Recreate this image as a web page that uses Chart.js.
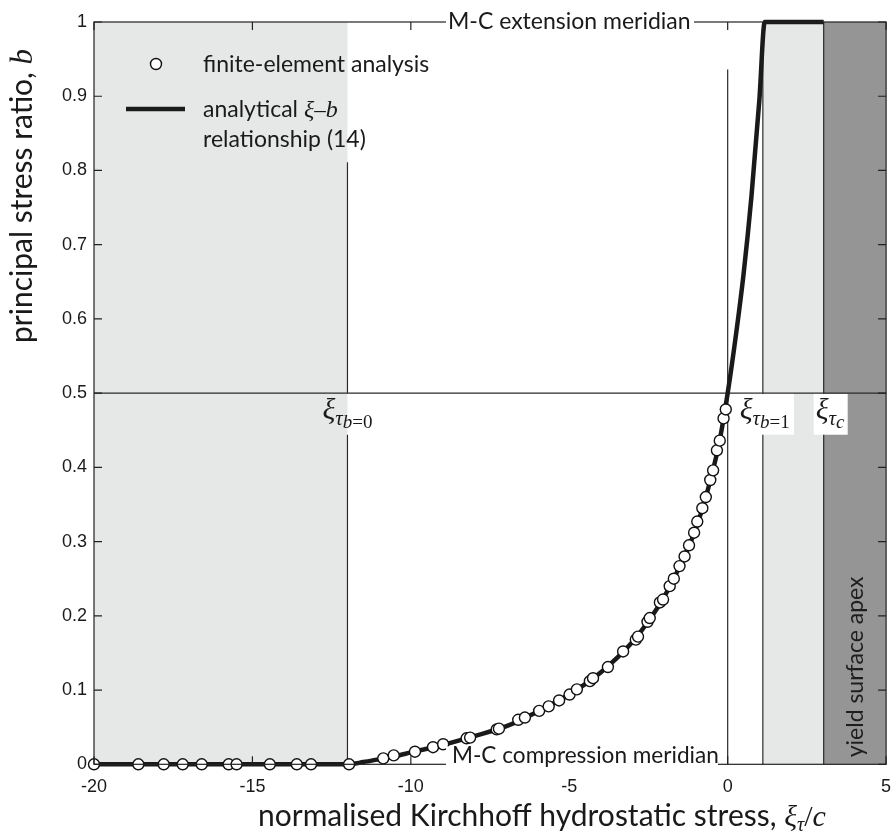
<!DOCTYPE html>
<html>
<head>
<meta charset="utf-8">
<script src="https://cdn.jsdelivr.net/npm/chart.js"></script>
<style>
  html, body { margin: 0; padding: 0; background: #fff; }
</style>
</head>
<body>
<canvas id="c" width="893" height="838"></canvas>
<script>
// finite-element results (xi_tau / c , b)
const feX = [-20, -18.6, -17.8, -17.2, -16.6, -15.75, -15.5, -14.45, -13.6, -13.15, -11.95,
  -10.87, -10.54, -9.87, -9.30, -8.98, -8.24, -8.13, -7.29, -7.22, -6.61, -6.40, -5.95, -5.65,
  -5.32, -4.99, -4.76, -4.35, -4.25, -3.78, -3.30, -2.90, -2.83, -2.53, -2.46, -2.14, -2.04,
  -1.83, -1.70, -1.52, -1.36, -1.22, -1.06, -0.96, -0.80, -0.69, -0.55, -0.46, -0.34, -0.25,
  -0.13, -0.06];
const feB = [0, 0, 0, 0, 0, 0, 0, 0, 0, 0, 0,
  0.008, 0.012, 0.017, 0.023, 0.027, 0.035, 0.036, 0.047, 0.048, 0.060, 0.063, 0.072, 0.078,
  0.086, 0.094, 0.101, 0.112, 0.116, 0.131, 0.152, 0.168, 0.172, 0.192, 0.197, 0.218, 0.222,
  0.240, 0.250, 0.267, 0.280, 0.295, 0.312, 0.327, 0.345, 0.360, 0.383, 0.396, 0.423, 0.436,
  0.466, 0.478];

// analytical xi-b relationship (14)
const curveX = [-20, -12, -11.5, -11, -10.5, -10, -9, -8, -7, -6, -5, -4, -3, -2.5, -2, -1.5,
  -1, -0.5, -0.25, 0, 0.25, 0.5, 0.75, 1.0, 1.17, 3.03];
const curveB = [0, 0, 0.003, 0.007, 0.011, 0.016, 0.026, 0.038, 0.051, 0.071, 0.094, 0.124,
  0.165, 0.193, 0.226, 0.268, 0.318, 0.39, 0.437, 0.5, 0.575, 0.66, 0.765, 0.895, 1, 1];

// shaded zones and reference lines
const lightBands = [[-20, -12], [1.11, 3.03]];
const darkBands = [[3.03, 5]];
const xiB0 = -12, xiB1 = 1.11, xiC = 3.03;

const SANS = '"Lato", "Open Sans", sans-serif';
const SERIF = '"Liberation Serif", "DejaVu Serif", serif';

// draws a row of text pieces in different fonts, left to right
function drawRuns(ctx, x, y, parts) {
  ctx.textAlign = 'left';
  ctx.textBaseline = 'alphabetic';
  for (const p of parts) {
    ctx.font = p.f;
    ctx.fillText(p.t, x, y + (p.dy || 0));
    x += ctx.measureText(p.t).width + (p.gap || 0);
  }
}

const decor = {
  id: 'decor',
  beforeDatasetsDraw(chart) {
    const ctx = chart.ctx, a = chart.chartArea;
    const sx = chart.scales.x, sy = chart.scales.y;
    ctx.save();
    ctx.fillStyle = '#e6e7e7';
    lightBands.forEach(([x0, x1]) => {
      const p0 = sx.getPixelForValue(x0), p1 = sx.getPixelForValue(x1);
      ctx.fillRect(p0, a.top, p1 - p0, a.bottom - a.top);
    });
    ctx.fillStyle = '#959595';
    darkBands.forEach(([x0, x1]) => {
      const p0 = sx.getPixelForValue(x0), p1 = sx.getPixelForValue(x1);
      ctx.fillRect(p0, a.top, p1 - p0, a.bottom - a.top);
    });

    ctx.strokeStyle = '#2a2a2a';
    ctx.lineWidth = 1.2;
    const vline = (x, b0, b1) => {
      const px = sx.getPixelForValue(x);
      ctx.beginPath();
      ctx.moveTo(px, sy.getPixelForValue(b0));
      ctx.lineTo(px, sy.getPixelForValue(b1));
      ctx.stroke();
    };
    vline(xiB0, 0, 0.444);
    vline(xiB0, 0.5, 0.811);
    vline(0, 0, 0.936);
    vline(xiB1, 0, 1);
    vline(xiC, 0, 1);
    const py = sy.getPixelForValue(0.5);
    ctx.beginPath();
    ctx.moveTo(a.left, py);
    ctx.lineTo(a.right, py);
    ctx.stroke();

    // white boxes behind the right-hand xi labels
    ctx.fillStyle = '#fff';
    const top = py + 0.8, h = sy.getPixelForValue(0.444) - top;
    ctx.fillRect(sx.getPixelForValue(0) + 10, top, sx.getPixelForValue(xiB1) - sx.getPixelForValue(0) + 21, h);
    ctx.fillRect(sx.getPixelForValue(xiC) - 10, top, 34, h);

    // xi labels
    ctx.fillStyle = '#1a1a1a';
    const base = py + 26;
    const xiLabel = (x, sub2) => {
      drawRuns(ctx, x, base, [
        { t: 'ξ', f: 'italic 30px ' + SERIF },
        { t: 'τ', f: 'italic 21px ' + SERIF, dy: 6 },
        ...sub2
      ]);
    };
    const bSub = (d) => [
      { t: 'b', f: 'italic 19px ' + SERIF, dy: 9 },
      { t: '=' + d, f: '19px ' + SERIF, dy: 9 }
    ];
    xiLabel(sx.getPixelForValue(xiB0) - 25, bSub('0'));
    xiLabel(sx.getPixelForValue(0) + 12, bSub('1'));
    xiLabel(sx.getPixelForValue(xiC) - 8, [{ t: 'c', f: 'italic 19px ' + SERIF, dy: 9 }]);

    // yield surface apex
    ctx.save();
    ctx.translate(sx.getPixelForValue(4.08) + 6, a.bottom - 7);
    ctx.rotate(-Math.PI / 2);
    ctx.fillStyle = '#1e1e1e';
    drawRuns(ctx, 0, 0, [{ t: 'yield surface apex', f: '23px ' + SANS }]);
    ctx.restore();
    ctx.restore();
  },
  afterDatasetsDraw(chart) {
    const ctx = chart.ctx, a = chart.chartArea;
    const sx = chart.scales.x, sy = chart.scales.y;
    ctx.save();
    ctx.strokeStyle = '#222';
    ctx.lineWidth = 1.2;
    ctx.strokeRect(a.left, a.top, a.right - a.left, a.bottom - a.top);

    // inward ticks on all four sides
    const tl = 8;
    ctx.beginPath();
    sx.ticks.forEach(t => {
      const px = sx.getPixelForValue(t.value);
      ctx.moveTo(px, a.bottom); ctx.lineTo(px, a.bottom - tl);
      ctx.moveTo(px, a.top); ctx.lineTo(px, a.top + tl);
    });
    sy.ticks.forEach(t => {
      const py = sy.getPixelForValue(t.value);
      ctx.moveTo(a.left, py); ctx.lineTo(a.left + tl, py);
      ctx.moveTo(a.right, py); ctx.lineTo(a.right - tl, py);
    });
    ctx.stroke();

    // meridian labels sitting on the frame
    ctx.fillStyle = '#fff';
    ctx.fillRect(446, a.top - 10, 248, 20);
    ctx.fillRect(446, a.bottom - 18, 272, 20);
    ctx.fillStyle = '#1a1a1a';
    drawRuns(ctx, 448, a.top + 7, [{ t: 'M-C extension meridian', f: '23px ' + SANS }]);
    drawRuns(ctx, 452, a.bottom - 1, [{ t: 'M-C compression meridian', f: '22.6px ' + SANS }]);

    // legend
    ctx.beginPath();
    ctx.arc(156, 64, 5.5, 0, Math.PI * 2);
    ctx.fillStyle = '#fff';
    ctx.fill();
    ctx.lineWidth = 1.4;
    ctx.strokeStyle = '#111';
    ctx.stroke();
    ctx.beginPath();
    ctx.moveTo(126, 109); ctx.lineTo(185, 109);
    ctx.lineWidth = 4.5;
    ctx.strokeStyle = '#1a1a1a';
    ctx.stroke();
    ctx.fillStyle = '#1a1a1a';
    drawRuns(ctx, 203, 72, [{ t: 'finite-element analysis', f: '23px ' + SANS }]);
    drawRuns(ctx, 203, 117, [
      { t: 'analytical ', f: '23px ' + SANS },
      { t: 'ξ', f: 'italic 24px ' + SERIF },
      { t: '–', f: '23px ' + SERIF },
      { t: 'b', f: 'italic 24px ' + SERIF }
    ]);
    drawRuns(ctx, 203, 147, [{ t: 'relationship (14)', f: '23px ' + SANS }]);

    // axis titles
    drawRuns(ctx, 258, 826, [
      { t: 'normalised Kirchhoff hydrostatic stress, ', f: '30px ' + SANS },
      { t: 'ξ', f: 'italic 30px ' + SERIF },
      { t: 'τ', f: 'italic 20px ' + SERIF, dy: 5 },
      { t: '/', f: '30px ' + SERIF },
      { t: 'c', f: 'italic 30px ' + SERIF }
    ]);
    ctx.save();
    ctx.translate(32, 343);
    ctx.rotate(-Math.PI / 2);
    drawRuns(ctx, 0, 0, [
      { t: 'principal stress ratio, ', f: '30px ' + SANS },
      { t: 'b', f: 'italic 31px ' + SERIF }
    ]);
    ctx.restore();
    ctx.restore();
  }
};

Chart.defaults.font.family = '"Liberation Sans", Arial, sans-serif';
Chart.defaults.color = '#1a1a1a';

new Chart(document.getElementById('c'), {
  type: 'scatter',
  data: {
    datasets: [
      {
        label: 'finite-element analysis',
        data: feX.map((x, i) => ({ x, y: feB[i] })),
        pointRadius: 5.5,
        pointBackgroundColor: '#fff',
        pointBorderColor: '#111',
        pointBorderWidth: 1.4,
        order: 0,
        clip: false
      },
      {
        label: 'analytical xi-b relationship (14)',
        data: curveX.map((x, i) => ({ x, y: curveB[i] })),
        showLine: true,
        borderColor: '#1a1a1a',
        borderWidth: 4.5,
        pointRadius: 0,
        cubicInterpolationMode: 'monotone',
        order: 1,
        clip: false
      }
    ]
  },
  options: {
    responsive: false,
    animation: false,
    layout: { padding: { top: 22, right: 6.5, left: 0, bottom: 0 } },
    plugins: { legend: { display: false }, tooltip: { enabled: false } },
    scales: {
      x: {
        type: 'linear', min: -20, max: 5,
        ticks: { stepSize: 5, font: { size: 18 }, padding: 12, maxRotation: 0 },
        grid: { display: false, drawTicks: false, tickLength: 0 },
        border: { display: false },
        afterFit(s) { s.height = 73.7; s.paddingLeft = 0; s.paddingRight = 0; }
      },
      y: {
        min: 0, max: 1,
        ticks: { stepSize: 0.1, font: { size: 18 }, padding: 7,
          callback: v => String(+v.toFixed(1)) },
        grid: { display: false, drawTicks: false, tickLength: 0 },
        border: { display: false },
        afterFit(s) { s.width = 94; s.paddingTop = 0; s.paddingBottom = 0; }
      }
    }
  },
  plugins: [decor]
});
</script>
</body>
</html>
